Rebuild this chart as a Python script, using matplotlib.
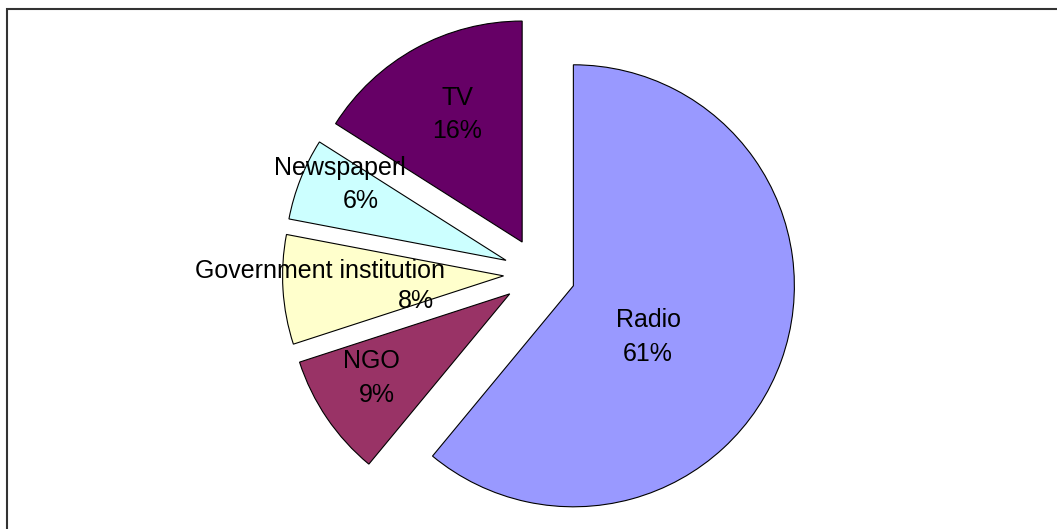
import matplotlib.pyplot as plt
from matplotlib.patches import Rectangle

plt.rcParams['font.family'] = ['Liberation Sans', 'DejaVu Sans']

# Information sources, clockwise from 12 o'clock
sources = ['Radio', 'NGO', 'Government institution', 'Newspaperl', 'TV']
shares = [61, 9, 8, 6, 16]
colors = ['#9999FF', '#993366', '#FFFFCC', '#CCFFFF', '#660066']

W, H = 1057, 529
fig = plt.figure(figsize=(W / 100, H / 100), dpi=100)
ax = fig.add_axes([0, 0, 1, 1])

# pie placement (pixels); explode is an absolute offset in data units
cx, cy, r = 539.5, H - 273.6, 221

wedges, _ = ax.pie(shares, colors=colors, startangle=90, counterclock=False,
                   explode=[36] * len(shares), radius=r, center=(cx, cy),
                   wedgeprops=dict(edgecolor='black', linewidth=0.8), frame=True)
ax.set_xlim(0, W)
ax.set_ylim(0, H)
ax.set_aspect('equal')
ax.axis('off')

# label anchors relative to the pie centre, in units of the radius
name_pos = [(0.491, -0.210), (-0.762, -0.396), (-0.993, 0.012), (-0.903, 0.478), (-0.373, 0.794)]
pct_pos = [(0.491, -0.364), (-0.735, -0.550), (-0.559, -0.125), (-0.808, 0.328), (-0.373, 0.644)]

for name, val, (nx, ny), (px, py) in zip(sources, shares, name_pos, pct_pos):
    ax.text(cx + nx * r, cy + ny * r, name, ha='center', va='center', fontsize=18)
    ax.text(cx + px * r, cy + py * r, f'{val}%', ha='center', va='center', fontsize=18)

# chart frame
fig.patches.append(Rectangle((6.5 / W, -0.1), 1.2, 1 - 8.5 / H + 0.1,
                             transform=fig.transFigure, fill=False,
                             edgecolor='#333333', linewidth=1.5))

fig.savefig('out.png', dpi=100)
